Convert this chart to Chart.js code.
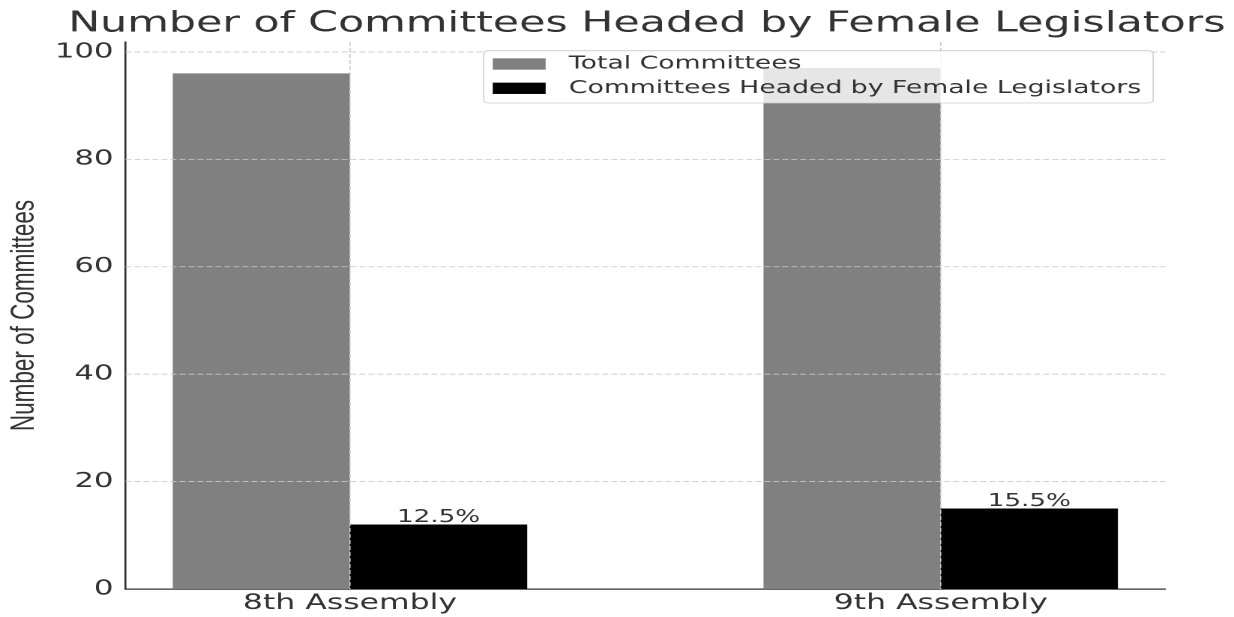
<!DOCTYPE html>
<html>
<head>
<meta charset="utf-8">
<script src="https://cdn.jsdelivr.net/npm/chart.js@4.4.1/dist/chart.umd.min.js"></script>
<style>
html, body { margin: 0; padding: 0; background: #ffffff; overflow: hidden; }
#wrap { position: absolute; left: 0; top: 0; width: 823px; height: 617px; transform: scaleX(1.49939); transform-origin: 0 0; }
</style>
</head>
<body>
<div id="wrap"><canvas id="c" width="823" height="617"></canvas></div>
<script>
// ---- data ----
const categories = ['8th Assembly', '9th Assembly'];
const categoryPositions = [0, 1];
const totalCommittees = [96, 97];
const femaleHeaded = [12, 15];
const yTicks = [0, 20, 40, 60, 80, 100];
const seriesNames = ['Total Committees', 'Committees Headed by Female Legislators'];
const seriesColors = ['#808080', '#000000'];
const titleText = 'Number of Committees Headed by Female Legislators';
const yTitleText = 'Number of Committees';
const percentLabels = femaleHeaded.map((v, i) => (v / totalCommittees[i] * 100).toFixed(1) + '%');

const TEXT = '#333333';
const FONT = "'DejaVu Sans', sans-serif";

const overlayPlugin = {
  id: 'overlay',
  afterDatasetsDraw(chart) {
    const { ctx, chartArea: a, scales: { x, y } } = chart;
    // grid lines drawn over the bars (as in the reference)
    ctx.save();
    ctx.strokeStyle = '#c8c8c8';
    ctx.lineWidth = 0.8;
    ctx.setLineDash([4, 2]);
    yTicks.forEach(v => {
      if (v === 0) return;
      const py = y.getPixelForValue(v);
      ctx.beginPath(); ctx.moveTo(a.left, py); ctx.lineTo(a.right, py); ctx.stroke();
    });
    categoryPositions.forEach(v => {
      const px = x.getPixelForValue(v);
      ctx.beginPath(); ctx.moveTo(px, a.top); ctx.lineTo(px, a.bottom); ctx.stroke();
    });
    ctx.restore();

    // percentage labels above the female bars
    ctx.save();
    ctx.fillStyle = TEXT;
    ctx.font = '17.5px ' + FONT;
    ctx.textAlign = 'center';
    ctx.textBaseline = 'alphabetic';
    chart.getDatasetMeta(1).data.forEach((bar, i) => {
      ctx.fillText(percentLabels[i], bar.x, bar.y - 2.5);
    });
    ctx.restore();

    // legend box inside the plot
    ctx.save();
    ctx.font = '17.8px ' + FONT;
    const tw = Math.max(...seriesNames.map(s => ctx.measureText(s).width));
    const padL = 6, hw = 35.3, hh = 11.3, gap = 15.5, padR = 8;
    const bw = padL + hw + gap + tw + padR;
    const bh = 52.3;
    const bx = a.right - 8 - bw;
    const by = a.top + 8.7;
    ctx.beginPath();
    ctx.roundRect(bx, by, bw, bh, 3);
    ctx.fillStyle = 'rgba(255,255,255,0.8)';
    ctx.fill();
    ctx.strokeStyle = '#cccccc';
    ctx.lineWidth = 0.8;
    ctx.stroke();
    const rows = [by + 13.3, by + 37.6];
    seriesNames.forEach((s, i) => {
      ctx.fillStyle = seriesColors[i];
      ctx.fillRect(bx + padL, rows[i] - hh / 2, hw, hh);
      ctx.fillStyle = TEXT;
      ctx.textAlign = 'left';
      ctx.textBaseline = 'middle';
      ctx.fillText(s, bx + padL + hw + gap, rows[i]);
    });
    ctx.restore();
  },
  afterDraw(chart) {
    const { ctx, chartArea: a } = chart;
    ctx.save();
    ctx.fillStyle = TEXT;
    ctx.font = '28.5px ' + FONT;
    ctx.textAlign = 'center';
    ctx.textBaseline = 'alphabetic';
    ctx.fillText(titleText, (a.left + a.right) / 2 + 1, 31.7);
    ctx.restore();
  }
};

new Chart(document.getElementById('c'), {
  type: 'bar',
  data: {
    datasets: [
      {
        label: seriesNames[0],
        data: categoryPositions.map((p, i) => ({ x: p, y: totalCommittees[i] })),
        backgroundColor: seriesColors[0],
        borderWidth: 0,
        categoryPercentage: 0.6,
        barPercentage: 1.0
      },
      {
        label: seriesNames[1],
        data: categoryPositions.map((p, i) => ({ x: p, y: femaleHeaded[i] })),
        backgroundColor: seriesColors[1],
        borderWidth: 0,
        categoryPercentage: 0.6,
        barPercentage: 1.0
      }
    ]
  },
  options: {
    responsive: false,
    animation: false,
    devicePixelRatio: 2,
    layout: { padding: { top: 42, right: 45.9, left: 0, bottom: 0 } },
    plugins: {
      legend: { display: false },
      title: { display: false },
      tooltip: { enabled: false }
    },
    scales: {
      x: {
        type: 'linear',
        offset: false,
        bounds: 'data',
        grace: 0,
        min: -0.38,
        max: 1.38,
        afterBuildTicks: s => { s.ticks = categoryPositions.map(v => ({ value: v })); },
        afterFit: s => { s.height = 28; },
        grid: { display: false, drawTicks: false, offset: false },
        border: { display: true, color: '#333333', width: 1.3 },
        ticks: {
          color: TEXT,
          font: { family: 'DejaVu Sans', size: 21 },
          padding: 2,
          maxRotation: 0,
          autoSkip: false,
          callback: (v, i) => categories[i]
        }
      },
      y: {
        type: 'linear',
        min: 0,
        max: Math.max(...totalCommittees) * 1.05,
        afterBuildTicks: s => { s.ticks = yTicks.map(v => ({ value: v })); },
        afterFit: s => { s.width = 83.7; },
        grid: { display: false, drawTicks: false },
        border: { display: true, color: '#333333', width: 1.3 },
        ticks: {
          color: TEXT,
          font: { family: 'DejaVu Sans', size: 20.5 },
          padding: 8
        },
        title: {
          display: true,
          text: yTitleText,
          color: TEXT,
          font: { family: 'Liberation Sans', size: 22.5 },
          padding: { top: 3, bottom: 0 }
        }
      }
    }
  },
  plugins: [overlayPlugin]
});
</script>
</body>
</html>
